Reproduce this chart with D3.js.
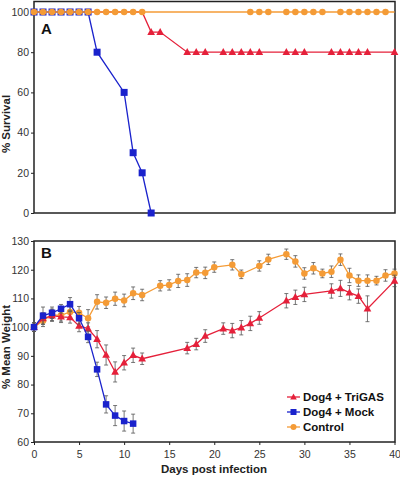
<!DOCTYPE html>
<html><head><meta charset="utf-8">
<script src="https://cdn.jsdelivr.net/npm/d3@7"></script>
<style>body{margin:0;background:#fff}svg{display:block}</style>
</head><body>
<svg id="c" width="400" height="477"></svg>
<script>
// ---- Panel A: survival ----
const survTriDays = [0,1,2,3,4,5,6,7,8,9,10,11,12,13,14,17,18,19,21,22,23,24,25,28,29,30,33,34,35,36,37,40];
const survTriVals = [100,100,100,100,100,100,100,100,100,100,100,100,100,90,90,80,80,80,80,80,80,80,80,80,80,80,80,80,80,80,80,80];
const survMockDays = [0,1,2,3,4,5,6,7,10,11,12,13];
const survMockVals = [100,100,100,100,100,100,100,80,60,30,20,0];
const survCtrlDays = [0,1,2,3,4,5,6,7,8,9,10,11,12,24,25,26,28,29,30,31,32,34,35,36,37,38,39];
const survCtrlVals = survCtrlDays.map(() => 100);
const survCtrlLineEnd = 40;

// ---- Panel B: weight ----
const wTriDays = [0,1,2,3,4,5,6,7,8,9,10,11,12,17,18,19,21,22,23,24,25,28,29,30,33,34,35,36,37,40];
const wTriVals = [100,103,104,103.6,103.4,100.4,99.5,95.8,90.3,84.4,87.6,90.2,89,92.7,94.1,96.9,99.5,98.8,99.8,101.3,103.2,109.2,110.4,111.4,112.6,113.5,112,110.8,106.4,116.1];
const wTriErr = [1.5,2,2,2,2,2,2,3,3.5,3.5,2.5,2.5,2,2,2,2.2,2,2.5,2.5,2.5,2.2,2.5,2.5,2.5,2.5,2.8,2.5,2.5,4.5,2];
const wMockDays = [0,1,2,3,4,5,6,7,8,9,10,11];
const wMockVals = [100,104,105,106.4,108,103.1,96.6,85.3,73.1,69.2,67.3,66.4];
const wMockErr = [1.5,3,2,1.5,2.3,2,2,2.5,3,3.5,3.5,3.3];
const wCtrlDays = [0,1,2,3,4,5,6,7,8,9,10,11,12,14,15,16,17,18,19,20,22,23,25,26,28,29,30,31,32,33,34,35,36,37,38,39,40];
const wCtrlVals = [100,102.2,104.3,104.1,105.3,105,103.1,108.8,108.5,109.9,109.3,111.8,111.2,114.4,114.7,116.1,116.4,119,118.9,120.9,121.7,118.4,121.3,123.6,125.4,122.9,118.7,120.5,118.7,119.3,123.5,118,116.2,116.2,116.2,118,118.7];
const wCtrlErr = [1.5,2,2,2,2,2.2,3,2.5,2,2.3,2.2,2.2,2,1.8,1.8,2.3,2.2,1.8,2,1.8,1.8,1.5,1.8,1.8,1.8,2,2,2,1.5,2,2,2.5,2,2,1.5,2,1.5];

const xTicks = [0,5,10,15,20,25,30,35,40];
const yTicksA = [0,20,40,60,80,100];
const yTicksB = [60,70,80,90,100,110,120,130];
const legendLabels = ["Dog4 + TriGAS","Dog4 + Mock","Control"];

const RED = "#e5203a", BLUE = "#1a22cc", ORANGE = "#f49b36";
const FONT = "'Liberation Sans', Arial, sans-serif";

const svg = d3.select("#c");
const x = d3.scaleLinear().domain([0,40]).range([34,394.5]);
const yA = d3.scaleLinear().domain([0,100]).range([213,12]);
const yB = d3.scaleLinear().domain([60,130]).range([442,241]);

function frame(top, bottom) {
  svg.append("rect").attr("x",34).attr("y",top).attr("width",361).attr("height",bottom-top)
    .attr("fill","none").attr("stroke","#222").attr("stroke-width",1.5);
}
frame(1.5, 213);
frame(241, 442);

function yAxis(scale, ticks) {
  const g = svg.append("g").attr("transform","translate(34,0)")
    .call(d3.axisLeft(scale).tickValues(ticks).tickSize(3).tickPadding(2));
  g.select(".domain").remove();
  g.selectAll("line").attr("stroke","#222");
  g.selectAll("text").attr("font-family",FONT).attr("font-size",10.5).attr("fill","#333");
}
yAxis(yA, yTicksA);
yAxis(yB, yTicksB);

const gx = svg.append("g").attr("transform","translate(0,442)")
  .call(d3.axisBottom(x).tickValues(xTicks).tickSize(3).tickPadding(6));
gx.select(".domain").remove();
gx.selectAll("line").attr("stroke","#222");
gx.selectAll("text").attr("font-family",FONT).attr("font-size",10.5).attr("fill","#333");

// axis titles
svg.append("text").attr("transform","translate(10,124) rotate(-90)").attr("text-anchor","middle")
  .attr("font-family",FONT).attr("font-weight","bold").attr("font-size",11.5).attr("fill","#222").text("% Survival");
svg.append("text").attr("transform","translate(10,347) rotate(-90)").attr("text-anchor","middle")
  .attr("font-family",FONT).attr("font-weight","bold").attr("font-size",11.5).attr("fill","#222").text("% Mean Weight");
svg.append("text").attr("x",214).attr("y",473).attr("text-anchor","middle")
  .attr("font-family",FONT).attr("font-weight","bold").attr("font-size",11.5).attr("fill","#222").text("Days post infection");

svg.append("text").attr("x",41).attr("y",34).attr("font-family",FONT).attr("font-weight","bold")
  .attr("font-size",15).attr("fill","#111").text("A");
svg.append("text").attr("x",41).attr("y",258).attr("font-family",FONT).attr("font-weight","bold")
  .attr("font-size",15).attr("fill","#111").text("B");

function marker(g, type, cx, cy, color, s) {
  if (type === "tri") {
    const h = s;
    g.append("path").attr("d",`M${cx},${cy-h*0.6}L${cx+h*0.55},${cy+h*0.4}L${cx-h*0.55},${cy+h*0.4}Z`).attr("fill",color);
  } else if (type === "sq") {
    g.append("rect").attr("x",cx-s/2).attr("y",cy-s/2).attr("width",s).attr("height",s).attr("fill",color);
  } else {
    g.append("circle").attr("cx",cx).attr("cy",cy).attr("r",s/2).attr("fill",color);
  }
}

function series(days, vals, errs, ys, color, type, size, opts) {
  opts = opts || {};
  const g = svg.append("g");
  if (errs) {
    days.forEach((d,i) => {
      const cx = x(d), y1 = ys(vals[i]+errs[i]), y2 = ys(vals[i]-errs[i]);
      g.append("line").attr("x1",cx).attr("x2",cx).attr("y1",y1).attr("y2",y2).attr("stroke","#555").attr("stroke-width",0.8);
      g.append("line").attr("x1",cx-2).attr("x2",cx+2).attr("y1",y1).attr("y2",y1).attr("stroke","#555").attr("stroke-width",0.8);
      g.append("line").attr("x1",cx-2).attr("x2",cx+2).attr("y1",y2).attr("y2",y2).attr("stroke","#555").attr("stroke-width",0.8);
    });
  }
  const ld = opts.lineDays || days, lv = opts.lineVals || vals;
  const line = d3.line().x((d,i)=>x(ld[i])).y((d,i)=>ys(lv[i]));
  g.append("path").attr("d",line(ld)).attr("fill","none").attr("stroke",color).attr("stroke-width",1.3);
  days.forEach((d,i) => {
    if (opts.hide && opts.hide(d, vals[i])) return;
    marker(g, type, x(d), ys(vals[i]), color, size);
  });
}

// Panel A (TriGAS markers at 100% lie under the control markers)
series(survTriDays, survTriVals, null, yA, RED, "tri", 7, {hide: (d,v) => v === 100});
series(survMockDays, survMockVals, null, yA, BLUE, "sq", 7);
series(survCtrlDays, survCtrlVals, null, yA, ORANGE, "circ", 6.5, {lineDays:[0, survCtrlLineEnd], lineVals:[100,100]});

// Panel B
series(wCtrlDays, wCtrlVals, wCtrlErr, yB, ORANGE, "circ", 6.5);
series(wTriDays, wTriVals, wTriErr, yB, RED, "tri", 7);
series(wMockDays, wMockVals, wMockErr, yB, BLUE, "sq", 6.5);

// Legend
const legColors = [RED, BLUE, ORANGE], legTypes = ["tri","sq","circ"];
legendLabels.forEach((lab,i) => {
  const cy = 397 + i*15;
  const g = svg.append("g");
  g.append("line").attr("x1",287).attr("x2",300).attr("y1",cy).attr("y2",cy).attr("stroke",legColors[i]).attr("stroke-width",1.3);
  marker(g, legTypes[i], 293.5, cy, legColors[i], 6);
  g.append("text").attr("x",303).attr("y",cy+4).attr("font-family",FONT).attr("font-weight","bold")
    .attr("font-size",11.5).attr("fill","#111").text(lab);
});
</script>
</body></html>
